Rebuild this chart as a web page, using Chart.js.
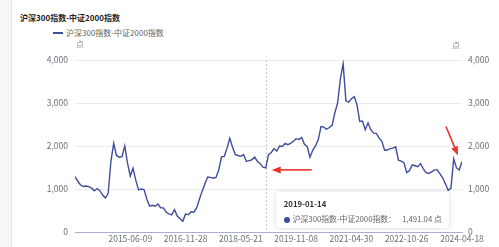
<!DOCTYPE html>
<html>
<head>
<meta charset="utf-8">
<script src="https://cdn.jsdelivr.net/npm/chart.js@4.4.1/dist/chart.umd.min.js"></script>
<style>
  html, body { margin: 0; padding: 0; background: #fff; }
  body { width: 499px; height: 247px; overflow: hidden; position: relative;
         font-family: "Noto Sans CJK SC", "Noto Sans", sans-serif; }
  .edge { position: absolute; left: 0; top: 0; width: 11px; height: 247px; background: #f6f6f6; border-right: 1px solid #e4e4e4; }
  .title { position: absolute; left: 20px; top: 12px; font-size: 8px; line-height: 12px; font-weight: bold; color: #222; }
  .legend { position: absolute; left: 53px; top: 27px; font-size: 8px; line-height: 12px; color: #666; display: flex; align-items: center; }
  .legend i { display: inline-block; width: 10px; height: 2px; background: #3f4d9a; margin-right: 3px; }
  canvas { position: absolute; left: 0; top: 0; }
  #tip { position: absolute; display: none; box-sizing: border-box; height: 36px; padding: 5px 7px 5px 8px; white-space: nowrap;
         background: #fff; border-radius: 3px; box-shadow: 0 0 5px rgba(0,0,0,0.16); font-size: 7.8px; line-height: 13px; color: #666; }
  #tip b { color: #333; display: block; margin-bottom: 2px; }
  #tip .dot { display: inline-block; width: 6px; height: 6px; border-radius: 50%; background: #3f4d9a; margin-right: 3px; vertical-align: -0.5px; }
  #tip .val { margin-left: 6px; }
</style>
</head>
<body>
<div class="edge"></div>
<div class="title" id="title"></div>
<div class="legend"><i></i><span id="legendText"></span></div>
<canvas id="chart" width="499" height="247"></canvas>
<div id="tip"></div>
<script>
// ----- Data -----
const seriesName = '沪深300指数-中证2000指数';
const unit = '点';
const dateLabels = ['2015-06-09', '2016-11-28', '2018-05-21', '2019-11-08', '2021-04-30', '2022-10-26', '2024-04-18'];
const labelEvery = 20;
const yTicks = [0, 1000, 2000, 3000, 4000];
const tipIndex = 69;
const tipDate = '2019-01-14';

const spread = [
    1287, 1180, 1093, 1060, 1070, 1054, 1020, 960, 1010, 960,
    860, 790, 900, 1650, 2062, 1780, 1740, 1752, 2000, 1600,
    1300, 1480, 1200, 980, 1000, 980, 760, 600, 620, 600,
    650, 560, 560, 460, 420, 400, 520, 370, 310, 250,
    420, 400, 470, 460, 560, 760, 950, 1120, 1280, 1270,
    1250, 1270, 1440, 1750, 1760, 1950, 2180, 1970, 1800, 1780,
    1760, 1800, 1640, 1660, 1680, 1740, 1640, 1590, 1510, 1491.04,
    1800, 1850, 1940, 1880, 2000, 1990, 2060, 2030, 2060, 2110,
    2170, 2150, 2200, 2040, 1990, 1740, 1900, 2000, 2150, 2450,
    2440, 2390, 2430, 2480, 2770, 3000, 3560, 3910, 3050, 3020,
    3100, 3150, 2960, 2570, 2580, 2380, 2540, 2380, 2300, 2295,
    2190, 2110, 1900, 1907, 1940, 1950, 1980, 1670, 1650, 1610,
    1380, 1430, 1560, 1540, 1519, 1590, 1470, 1380, 1360, 1400,
    1440, 1450, 1360, 1260, 1120, 970, 1020, 1700, 1490, 1440,
    1640
];

document.getElementById('title').textContent = seriesName;
document.getElementById('legendText').textContent = seriesName;

const lineColor = '#3f4d9a';
const fmt = v => v.toLocaleString('en-US', { maximumFractionDigits: 2 });

Chart.defaults.font.family = '"Noto Sans CJK SC", "Noto Sans", sans-serif';
Chart.defaults.font.size = 8.5;
Chart.defaults.color = '#6e7079';

// ----- Plugins: pointer line, unit labels, red arrows -----
const pointerLine = {
    id: 'pointerLine',
    beforeDatasetsDraw(chart) {
        const {ctx, chartArea, scales} = chart;
        const x = scales.x.getPixelForValue(tipIndex);
        ctx.save();
        ctx.strokeStyle = '#c8c8c8';
        ctx.lineWidth = 1;
        ctx.setLineDash([2, 2]);
        ctx.beginPath();
        ctx.moveTo(Math.round(x) + 0.5, chartArea.top);
        ctx.lineTo(Math.round(x) + 0.5, chartArea.bottom);
        ctx.stroke();
        ctx.restore();
    }
};

const unitLabels = {
    id: 'unitLabels',
    afterDraw(chart) {
        const {ctx, chartArea} = chart;
        ctx.save();
        ctx.fillStyle = '#8a8d96';
        ctx.font = '8px "Noto Sans CJK SC"';
        ctx.textAlign = 'center';
        ctx.textBaseline = 'middle';
        ctx.fillText(unit, chartArea.left + 5, chartArea.top - 16);
        ctx.fillText(unit, chartArea.right - 6, chartArea.top - 15);
        ctx.restore();
    }
};

function arrow(ctx, x1, y1, x2, y2) {
    const a = Math.atan2(y2 - y1, x2 - x1);
    const len = 9, half = 3.5;
    const bx = x2 - len * Math.cos(a), by = y2 - len * Math.sin(a);
    ctx.beginPath();
    ctx.moveTo(x1, y1);
    ctx.lineTo(bx, by);
    ctx.stroke();
    ctx.beginPath();
    ctx.moveTo(x2, y2);
    ctx.lineTo(bx + half * Math.sin(a), by - half * Math.cos(a));
    ctx.lineTo(bx - half * Math.sin(a), by + half * Math.cos(a));
    ctx.closePath();
    ctx.fill();
}

const redArrows = {
    id: 'redArrows',
    afterDraw(chart) {
        const {ctx, scales} = chart;
        ctx.save();
        ctx.strokeStyle = '#e8342b';
        ctx.fillStyle = '#e8342b';
        ctx.lineWidth = 1.6;
        // pointing at the tooltip day
        const px = scales.x.getPixelForValue(tipIndex) + 6;
        const py = scales.y.getPixelForValue(spread[tipIndex]) + 2;
        arrow(ctx, px + 40, py, px, py);
        // pointing at the latest value
        const last = spread.length - 1;
        const lx = scales.x.getPixelForValue(last) - 4;
        const ly = scales.y.getPixelForValue(spread[last]) - 6;
        arrow(ctx, lx - 12, ly - 29, lx, ly);
        ctx.restore();
    }
};

// ----- Tooltip (html) -----
const tipEl = document.getElementById('tip');
function externalTip({chart, tooltip}) {
    if (!tooltip.dataPoints || !tooltip.dataPoints.length) { tipEl.style.display = 'none'; return; }
    const p = tooltip.dataPoints[0];
    tipEl.innerHTML = '<b>' + tipDate + '</b><span class="dot"></span>' + seriesName + '：' +
        '<span class="val">' + fmt(p.parsed.y) + ' ' + unit + '</span>';
    tipEl.style.display = 'block';
    tipEl.style.left = (p.element.x + 10) + 'px';
    tipEl.style.top = (chart.chartArea.bottom - 40) + 'px';
}

// ----- Chart -----
const chart = new Chart(document.getElementById('chart'), {
    type: 'line',
    data: {
        datasets: [{
            label: seriesName,
            data: spread.map((v, i) => ({x: i, y: v})),
            borderColor: lineColor,
            backgroundColor: lineColor,
            borderWidth: 1.4,
            pointRadius: 0,
            tension: 0,
            yAxisID: 'y'
        }]
    },
    options: {
        responsive: false,
        animation: false,
        devicePixelRatio: 1,
        events: [],
        layout: { padding: { top: 60, left: 0, right: 0, bottom: 0 } },
        plugins: {
            legend: { display: false },
            title: { display: false },
            tooltip: { enabled: false, external: externalTip }
        },
        scales: {
            x: {
                type: 'linear',
                min: 0,
                max: spread.length - 1,
                afterBuildTicks: s => { s.ticks = dateLabels.map((d, i) => ({value: (i + 1) * labelEvery})); },
                ticks: {
                    autoSkip: false, maxRotation: 0, padding: 2,
                    callback: v => dateLabels[v / labelEvery - 1] || ''
                },
                grid: { display: false, drawTicks: false },
                border: { display: true, color: '#a9aed6', width: 1 },
                afterFit: s => { s.height = 15; }
            },
            y: {
                position: 'left',
                min: 0, max: 4000,
                afterBuildTicks: s => { s.ticks = yTicks.map(v => ({value: v})); },
                ticks: { padding: 7, callback: v => fmt(v) },
                grid: { color: c => c.tick && c.tick.value === 0 ? 'rgba(0,0,0,0)' : '#ededed', drawTicks: false },
                border: { display: false },
                afterFit: s => { s.width = 75; }
            },
            y2: {
                position: 'right',
                min: 0, max: 4000,
                afterBuildTicks: s => { s.ticks = yTicks.map(v => ({value: v})); },
                ticks: { padding: 6, callback: v => fmt(v) },
                grid: { drawOnChartArea: false, drawTicks: false },
                border: { display: false },
                afterFit: s => { s.width = 37; }
            }
        }
    },
    plugins: [pointerLine, unitLabels, redArrows]
});

chart.tooltip.setActiveElements([{datasetIndex: 0, index: tipIndex}], {x: 0, y: 0});
chart.draw();
</script>
</body>
</html>
